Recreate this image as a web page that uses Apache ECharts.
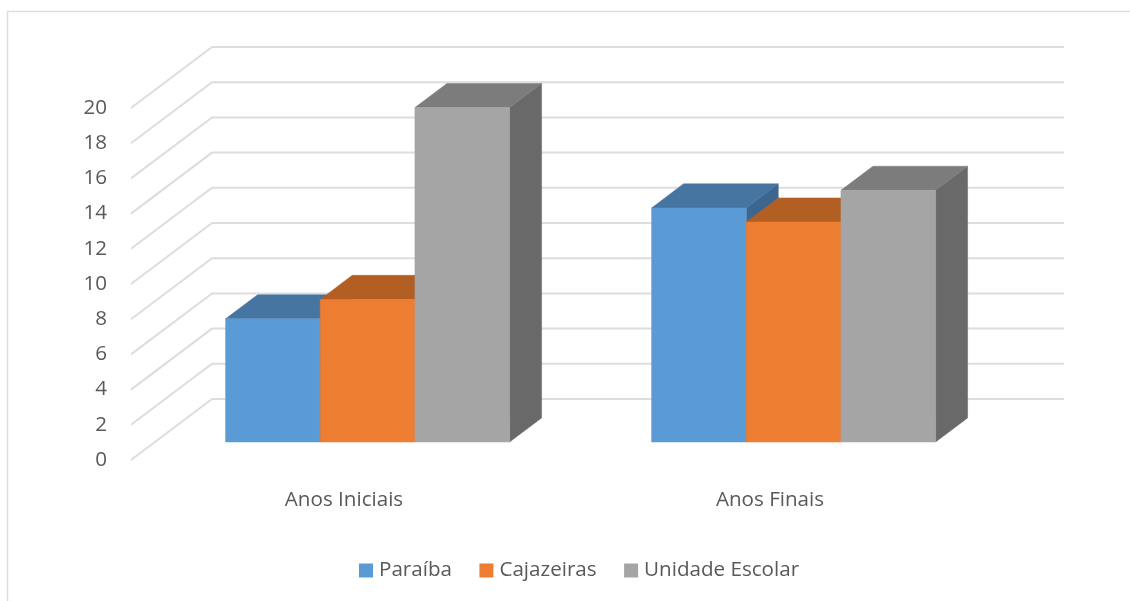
<!DOCTYPE html>
<html><head><meta charset="utf-8">
<style>html,body{margin:0;padding:0;background:#fff}#c{width:1130px;height:601px}</style>
<script src="https://cdn.jsdelivr.net/npm/echarts@6/dist/echarts.min.js"></script>
</head><body><div id="c"></div>
<script>
const categories = ['Anos Iniciais', 'Anos Finais'];
const seriesNames = ['Paraíba', 'Cajazeiras', 'Unidade Escolar'];
const paraiba = [7.0, 13.3];
const cajazeiras = [8.1, 12.5];
const unidadeEscolar = [19.0, 14.3];
const yTicks = [0, 2, 4, 6, 8, 10, 12, 14, 16, 18, 20];

const FONT = '"Open Sans", "Noto Sans", sans-serif';
const TEXT = '#595959';
const WALL_DX = 81, WALL_DY = -61;      // full floor depth in projection
const BAR_NEAR = 0.295, BAR_FAR = 0.69; // bar front/back as a fraction of floor depth
const faces = [
  {front: '#5B9BD5', top: '#4675A1', side: '#3C6690'},
  {front: '#ED7D31', top: '#B35F24', side: '#9E5321'},
  {front: '#A5A5A5', top: '#7C7C7C', side: '#696969'}
];

function poly(points, fill) {
  return {type: 'polygon', shape: {points}, style: {fill, stroke: fill, lineWidth: 0.5}};
}
function barSeries(name, values, idx) {
  return {
    type: 'custom', name, z: 3 + idx,
    coordinateSystem: 'cartesian2d',
    itemStyle: {color: faces[idx].front},
    encode: {x: 0, y: 1},
    data: values.map((v, i) => [i, v]),
    renderItem(params, api) {
      const base = api.coord([api.value(0), 0]);
      const top = api.coord([api.value(0), api.value(1)]);
      const band = api.size([1, 0])[0];
      const w = band / 4.5;
      const x0 = base[0] + (idx - 1.5) * w + WALL_DX * BAR_NEAR - 0.3, x1 = x0 + w;
      const yb = base[1] + WALL_DY * BAR_NEAR, yt = top[1] + WALL_DY * BAR_NEAR;
      const dx = WALL_DX * (BAR_FAR - BAR_NEAR), dy = WALL_DY * (BAR_FAR - BAR_NEAR);
      const c = faces[idx];
      return {type: 'group', children: [
        poly([[x1, yt], [x1 + dx, yt + dy], [x1 + dx, yb + dy], [x1, yb]], c.side),
        poly([[x0, yt], [x0 + dx, yt + dy], [x1 + dx, yt + dy], [x1, yt]], c.top),
        poly([[x0, yt], [x1, yt], [x1, yb], [x0, yb]], c.front)
      ]};
    }
  };
}
const wallSeries = {
  type: 'custom', silent: true, z: 1,
  coordinateSystem: 'cartesian2d',
  encode: {y: 0},
  data: yTicks.map(t => [t]),
  tooltip: {show: false},
  renderItem(params, api) {
    const a = api.coord([0, api.value(0)]);
    const start = params.coordSys.x, end = params.coordSys.x + params.coordSys.width;
    const y = a[1];
    return {
      type: 'polyline',
      shape: {points: [[start, y], [start + WALL_DX, y + WALL_DY], [end + WALL_DX, y + WALL_DY]]},
      style: {fill: 'none', stroke: '#DDDDDD', lineWidth: 2}
    };
  }
};
const chart = echarts.init(document.getElementById('c'), null, {renderer: 'canvas'});
chart.setOption({
  animation: false,
  backgroundColor: '#fff',
  textStyle: {fontFamily: FONT},
  grid: {left: 131, top: 108, width: 852, height: 352, containLabel: false},
  xAxis: {
    type: 'category', data: categories,
    axisLine: {show: false}, axisTick: {show: false}, splitLine: {show: false},
    axisLabel: {color: TEXT, fontFamily: FONT, fontSize: 20.6, margin: 30}
  },
  yAxis: {
    type: 'value', min: 0, max: 20, interval: 2,
    axisLine: {show: false}, axisTick: {show: false}, splitLine: {show: false},
    axisLabel: {color: TEXT, fontFamily: FONT, fontSize: 20.6, margin: 24, padding: [2, 0, 0, 0]}
  },
  legend: {
    show: true, left: 354, top: 555, itemWidth: 14, itemHeight: 14, itemGap: 27.5,
    icon: 'rect',
    textStyle: {color: TEXT, fontFamily: FONT, fontSize: 20.6, padding: [0, 0, 0, 1]},
    data: seriesNames
  },
  graphic: [{
    type: 'polyline', silent: true, z: 0,
    shape: {points: [[7.5, 601], [7.5, 11.5], [1130, 11.5]]},
    style: {fill: 'none', stroke: '#DDDDDD', lineWidth: 1.5}
  }],
  series: [
    wallSeries,
    barSeries(seriesNames[0], paraiba, 0),
    barSeries(seriesNames[1], cajazeiras, 1),
    barSeries(seriesNames[2], unidadeEscolar, 2)
  ]
});
</script></body></html>
